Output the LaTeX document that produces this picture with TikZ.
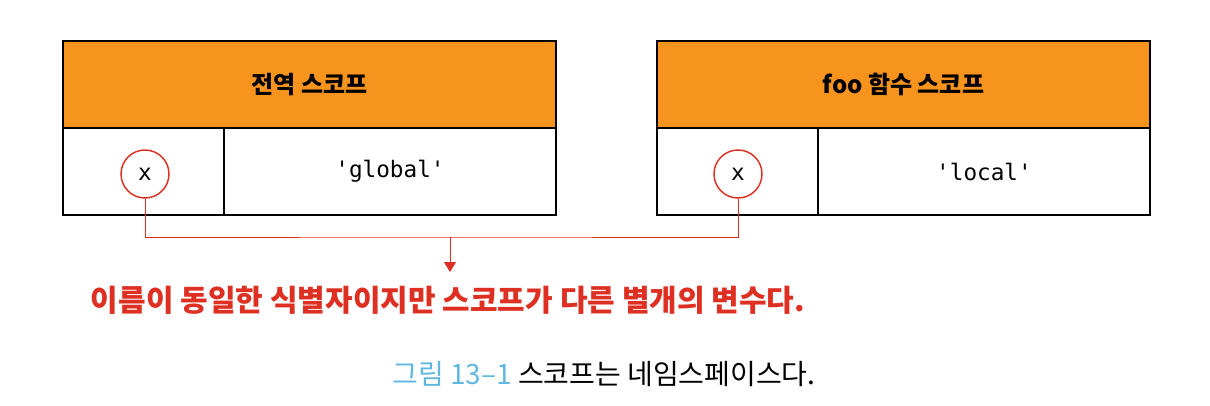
\documentclass[tikz,border=0pt]{standalone}
\usepackage{fontspec}
\usetikzlibrary{arrows.meta}
\newfontfamily\kr{Noto Sans CJK KR}
\newfontfamily\mono{DejaVu Sans Mono}
\definecolor{hdr}{RGB}{247,148,30}
\definecolor{redc}{RGB}{222,48,34}
\definecolor{capblue}{RGB}{96,184,224}
\begin{document}
\begin{tikzpicture}[x=0.75pt,y=-0.75pt,
  cell/.style={draw=black,line width=1.5pt,inner sep=0pt,outer sep=0pt,anchor=north west,minimum height=65.25pt},
  head/.style={cell,fill=hdr,minimum width=369.75pt,font=\kr\bfseries\fontsize{18}{20}\selectfont},
  namecell/.style={cell,minimum width=120.75pt},
  valcell/.style={cell,minimum width=249pt,font=\mono\fontsize{17}{20}\selectfont},
  varc/.style={circle,draw=redc,line width=1.1pt,minimum size=36pt,inner sep=0pt,font=\mono\fontsize{17}{20}\selectfont},
  link/.style={draw=redc,line width=0.7pt}]
\useasboundingbox (0,0) rectangle (1210,406);
% left box
\node[head] (h1) at (63,41) {전역 스코프};
\node[namecell] (n1) at (63,128) {};
\node[valcell] (v1) at (224,128) {'global'};
% right box
\node[head] (h2) at (657,41) {foo 함수 스코프};
\node[namecell] (n2) at (657,128) {};
\node[valcell] (v2) at (818,128) {'local'};
% circles
\node[varc] (c1) at (145,174) {x};
\node[varc] (c2) at (738,174) {x};
\coordinate (j) at (450,237);
\coordinate (tip) at (450,272);
\node[font=\kr\bfseries\fontsize{22.5}{26}\selectfont,text=redc,anchor=center] (msg) at (448,300) {이름이 동일한 식별자이지만 스코프가 다른 별개의 변수다.};
\node[font=\kr\fontsize{21}{24}\selectfont,anchor=center] (cap) at (604,374) {\textcolor{capblue}{그림 13–1} 스코프는 네임스페이스다.};
\draw[link] (c1.south) |- (j) -| (c2.south);
\draw[link,-{Triangle[width=9pt,length=7.5pt]},fill=redc] (j) -- (tip);
\end{tikzpicture}
\end{document}
